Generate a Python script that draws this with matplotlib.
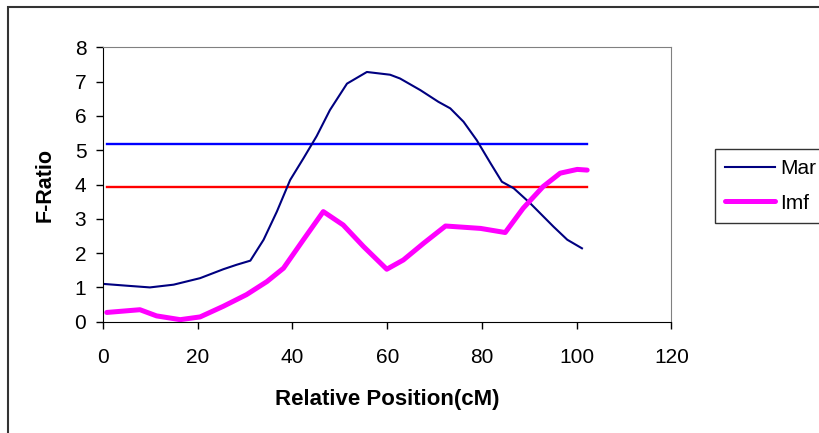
import matplotlib.pyplot as plt
from matplotlib.patches import Rectangle

plt.rcParams['font.family'] = ['Liberation Sans', 'DejaVu Sans']

# Mar curve
mar_x = [0.3, 5, 9.9, 14.9, 20.5, 25.4, 28.2, 31.1, 33.9, 36.7, 39.5, 42.3,
         45.1, 47.9, 51.5, 55.7, 60.6, 62.7, 67, 70.8, 73.3, 76.1, 78.9,
         81.8, 84.2, 86.7, 90.2, 95.1, 98, 101.1]
mar_y = [1.1, 1.05, 1.0, 1.08, 1.27, 1.53, 1.66, 1.78, 2.39, 3.21, 4.13, 4.76,
         5.41, 6.17, 6.94, 7.28, 7.2, 7.09, 6.75, 6.41, 6.22, 5.83, 5.29,
         4.62, 4.08, 3.89, 3.45, 2.77, 2.39, 2.14]

# Imf curve
imf_x = [0.8, 7.8, 11.3, 16.3, 20.5, 25.4, 30.3, 34.6, 38.1, 42.3, 46.5,
         50.7, 55, 59.9, 63.4, 67.7, 72.3, 79.7, 84.9, 88.7, 92.9, 96.5,
         100.1, 102.2]
imf_y = [0.27, 0.35, 0.17, 0.06, 0.14, 0.45, 0.79, 1.17, 1.56, 2.39, 3.21,
         2.82, 2.19, 1.53, 1.80, 2.29, 2.79, 2.72, 2.60, 3.31, 3.94, 4.33,
         4.44, 4.42]

# threshold lines
thr_x = [0.9, 102.2]
thr_hi = 5.17
thr_lo = 3.92

fig = plt.figure(figsize=(8.2, 4.33), dpi=100)
ax = fig.add_axes([0.1256, 0.257, 0.6933, 0.6338])

ax.plot(thr_x, [thr_hi, thr_hi], color='#0000FF', lw=1.7)
ax.plot(thr_x, [thr_lo, thr_lo], color='#FF0000', lw=1.7)
ax.plot(mar_x, mar_y, color='#000080', lw=1.5, label='Mar')
ax.plot(imf_x, imf_y, color='#FF00FF', lw=3.6, label='Imf',
        solid_capstyle='round')

ax.set_xlim(0, 120)
ax.set_ylim(0, 8)
ax.set_xticks(range(0, 121, 20))
ax.set_yticks(range(0, 9))
ax.tick_params(axis='x', direction='out', length=5, width=1, pad=14,
               labelsize=15)
ax.tick_params(axis='y', direction='out', length=5, width=1, pad=7,
               labelsize=15)
for s in ['left', 'bottom']:
    ax.spines[s].set_color('black')
for s in ['top', 'right']:
    ax.spines[s].set_color('#808080')

ax.set_xlabel('Relative Position(cM)', fontsize=16, fontweight='bold',
              labelpad=16)
ax.set_ylabel('F-Ratio', fontsize=15.5, fontweight='bold', labelpad=14)

leg = fig.legend(loc='upper left', bbox_to_anchor=(715 / 820, 1 - 149 / 433),
                 fontsize=15, frameon=True, fancybox=False,
                 handlelength=2.4, handletextpad=0.25, labelspacing=0.73,
                 borderpad=0.5, borderaxespad=0)
leg.get_frame().set_edgecolor('black')
leg.get_frame().set_linewidth(1)

# outer chart frame
fig.patches.append(Rectangle((8 / 820, -0.2), 1.2, 1.2 - 7 / 433,
                             transform=fig.transFigure, fill=False,
                             edgecolor='#333333', lw=1.5))

plt.savefig('out.png')
